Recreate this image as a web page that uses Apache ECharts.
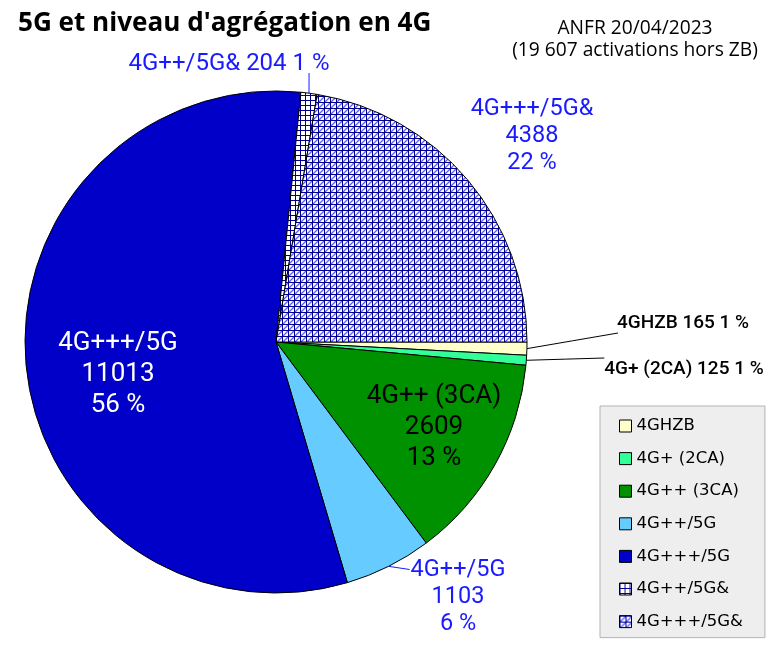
<!DOCTYPE html>
<html>
<head>
<meta charset="utf-8">
<title>5G et niveau d'agrégation en 4G</title>
<script src="https://cdn.jsdelivr.net/npm/echarts@6/dist/echarts.min.js"></script>
<style>
  html, body { margin: 0; padding: 0; background: #fff; }
  #main { width: 769px; height: 650px; }
</style>
</head>
<body>
<div id="main"></div>
<script>
// données ANFR 20/04/2023
var categories = ['4GHZB', '4G+ (2CA)', '4G++ (3CA)', '4G++/5G', '4G+++/5G', '4G++/5G&', '4G+++/5G&'];
var activations = [165, 125, 2609, 1103, 11013, 204, 4388];

// position du centre de chaque étiquette (mise en page seulement)
var labelAnchor = [[683, 323], [684, 369], [434, 427], [458, 597], [118, 374], [229, 64], [532, 136]];
// forme du trait de rappel
var lineMode = ['leftBottom', 'leftTop', null, 'leftFirst', null, 'vertical', null];

var blue = '#1a1aff';

// motifs quadrillés
function makeGrid(size, diag) {
  var c = document.createElement('canvas');
  c.width = size; c.height = size;
  var g = c.getContext('2d');
  g.fillStyle = '#ffffff';
  g.fillRect(0, 0, size, size);
  if (diag) {
    g.strokeStyle = '#5a5aff';
    g.lineWidth = 1.3;
    g.beginPath();
    g.moveTo(1, size);
    g.lineTo(size, 1);
    g.stroke();
  }
  g.fillStyle = '#00008b';
  g.fillRect(0, 0, size, 1);
  g.fillRect(0, 0, 1, size);
  return c;
}
var grid5 = { image: makeGrid(5, false), repeat: 'repeat' };
var grid6 = { image: makeGrid(6, true), repeat: 'repeat' };

var colors = ['#ffffcc', '#33ff99', '#009100', '#66ccff', '#0000c8', grid5, grid6];

function labelStyle(i) {
  if (i === 0 || i === 1) {
    return { color: '#000', fontSize: 19, fontWeight: 500, lineHeight: 22,
      formatter: function (p) { return p.name + ' ' + p.value + ' ' + Math.round(p.percent) + ' %'; } };
  }
  if (i === 5) {
    return { color: blue, fontSize: 24, lineHeight: 26,
      formatter: function (p) { return p.name + ' ' + p.value + ' ' + Math.round(p.percent) + ' %'; } };
  }
  var inside = (i === 2 || i === 4);
  return {
    position: inside ? 'inside' : 'outside',
    color: i === 4 ? '#fff' : (i === 2 ? '#000' : blue),
    fontSize: inside ? 26 : 23.5,
    lineHeight: inside ? 31 : 27,
    formatter: function (p) { return p.name + '\n' + p.value + '\n' + Math.round(p.percent) + ' %'; }
  };
}

var pieData = categories.map(function (name, i) {
  return {
    name: name,
    value: activations[i],
    itemStyle: { color: colors[i] },
    label: labelStyle(i),
    labelLine: { show: lineMode[i] !== null, lineStyle: { color: (i < 2) ? '#000' : blue, width: 1 } }
  };
});

var myChart = echarts.init(document.getElementById('main'));
var option = {
  animation: false,
  backgroundColor: '#ffffff',
  title: [{
    text: "5G et niveau d'agrégation en 4G",
    left: 13,
    top: 6,
    textStyle: { fontFamily: 'Open Sans', fontWeight: 'bold', fontSize: 26.1, color: '#000' }
  }, {
    text: 'ANFR 20/04/2023\n(19 607 activations hors ZB)',
    left: 630,
    top: 13,
    textAlign: 'center',
    textStyle: { fontFamily: 'Open Sans', fontWeight: 'normal', fontSize: 19.2, lineHeight: 22, color: '#000' }
  }],
  legend: {
    orient: 'vertical',
    left: 600,
    top: 406,
    data: categories,
    selectedMode: false,
    icon: 'rect',
    itemWidth: 12,
    itemHeight: 12,
    itemGap: 12.6,
    padding: [10, 22, 6, 19],
    backgroundColor: '#eeeeee',
    borderColor: '#b3b3b3',
    borderWidth: 1,
    borderRadius: 0,
    itemStyle: { borderColor: '#000', borderWidth: 1 },
    textStyle: { fontFamily: 'DejaVu Sans', fontSize: 16.5, lineHeight: 20, color: '#000' }
  },
  series: [{
    name: 'activations',
    type: 'pie',
    center: [276, 342],
    radius: 251,
    startAngle: 0,
    clockwise: true,
    avoidLabelOverlap: false,
    silent: true,
    itemStyle: { borderColor: '#000', borderWidth: 1 },
    label: { fontFamily: 'Roboto' },
    labelLayout: function (p) {
      var a = labelAnchor[p.dataIndex];
      var out = { x: a[0], y: a[1], align: 'center', verticalAlign: 'middle' };
      var m = lineMode[p.dataIndex];
      var pts = p.labelLinePoints;
      if (m && pts) {
        var w = p.labelRect.width, h = p.labelRect.height;
        var left = a[0] - w / 2, top = a[1] - h / 2, bottom = a[1] + h / 2;
        var s = pts[0], end;
        if (m === 'leftBottom') end = [left + 1, bottom - 1];
        else if (m === 'leftTop') end = [left, top];
        else if (m === 'leftFirst') end = [left - 1, top + 13];
        else end = [s[0], bottom - 4];
        out.labelLinePoints = [s, [(s[0] + end[0]) / 2, (s[1] + end[1]) / 2], end];
      }
      return out;
    },
    data: pieData
  }]
};
myChart.setOption(option);
</script>
</body>
</html>
